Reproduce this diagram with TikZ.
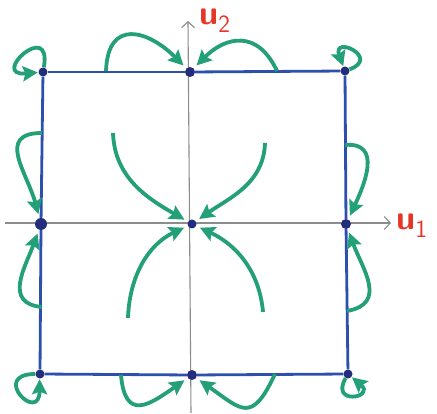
\documentclass[tikz,border=0pt]{standalone}
\usetikzlibrary{arrows.meta}
\definecolor{sideblue}{RGB}{45,80,175}
\definecolor{dotblue}{RGB}{35,45,125}
\definecolor{flowgreen}{RGB}{35,160,120}
\definecolor{labelred}{RGB}{228,55,40}

\begin{document}
\begin{tikzpicture}[x=1pt, y=1pt,
  % ---- Style definitions ----
  dot/.style={
    circle, fill=dotblue, inner sep=0pt, minimum size=9pt
  },
  sqline/.style={
    draw=sideblue, line width=2.8pt
  },
  axisline/.style={
    -{Straight Barb[length=6pt, width=13pt]}, draw=black!45, line width=1.1pt
  },
  flow/.style={
    -{Stealth[length=15pt, width=15pt, inset=2.5pt]}, draw=flowgreen,
    line width=3.8pt, shorten >=4pt
  },
  loopflow/.style={
    flow, shorten >=0.5pt
  },
  lbl/.style={
    text=labelred, font=\sffamily\bfseries\fontsize{34}{36}\selectfont, inner sep=0pt
  },
]
\useasboundingbox (0,0) rectangle (437,413);

% ---- Axes ----
\coordinate (xs) at (5,190);
\coordinate (xe) at (391,190);
\coordinate (ys) at (191,0);
\coordinate (ye) at (188,392);
\draw[axisline] (xs) -- (xe);
\draw[axisline] (ys) -- (ye);
\node[lbl, anchor=base west] (u1) at (396,183) {u$_{\mathsf{1}}$};
\node[lbl, anchor=base west] (u2) at (199,388) {u$_{\mathsf{2}}$};

% ---- Equilibrium points ----
\node[dot] (tl) at (43,341) {};
\node[dot, minimum size=10pt] (tm) at (190,341) {};
\node[dot] (tr) at (345,342) {};
\node[dot, minimum size=12pt] (ml) at (41,189) {};
\node[dot] (ctr) at (192,189) {};
\node[dot, minimum size=10pt] (mr) at (346,189) {};
\node[dot] (bl) at (40,39) {};
\node[dot, minimum size=10pt] (bm) at (192,38) {};
\node[dot] (br) at (348,39) {};

% ---- Square ----
\draw[sqline] (tl) -- (tm);
\draw[sqline] (tm) -- (tr);
\draw[sqline] (tr) -- (mr);
\draw[sqline] (mr) -- (br);
\draw[sqline] (br) -- (bm);
\draw[sqline] (bm) -- (bl);
\draw[sqline] (bl) -- (ml);
\draw[sqline] (ml) -- (tl);

% ---- Flow along the edges ----
\coordinate (e1) at (106,342);
\coordinate (e2) at (277,342);
\coordinate (e3) at (42,280);
\coordinate (e4) at (42,106);
\coordinate (e5) at (345,268);
\coordinate (e6) at (347,102);
\coordinate (e7) at (121,38);
\coordinate (e8) at (275,39);
\draw[flow] (e1) to[out=88, in=135, looseness=1.7] (tm);
\draw[flow] (e2) to[out=115, in=45, looseness=1.4] (tm);
\draw[flow] (e3) to[out=180, in=105, looseness=1.4] (ml);
\draw[flow] (e4) to[out=175, in=250, looseness=1.3] (ml);
\draw[flow] (e5) to[out=5, in=65, looseness=1.3] (mr);
\draw[flow] (e6) to[out=10, in=290, looseness=1.3] (mr);
\draw[flow] (e7) to[out=-85, in=215, looseness=1.8] (bm);
\draw[flow] (e8) to[out=-115, in=-35, looseness=1.8] (bm);

% ---- Flow towards the centre ----
\coordinate (s1) at (113,280);
\coordinate (s2) at (265,270);
\coordinate (s3) at (128,95);
\coordinate (s4) at (263,101);
\draw[flow] (s1) to[out=-88, in=150] (ctr);
\draw[flow] (s2) to[out=-92, in=35] (ctr);
\draw[flow] (s3) to[out=88, in=205] (ctr);
\draw[flow] (s4) to[out=95, in=-25] (ctr);

% ---- Loops at the corners ----
\draw[loopflow] (tl.80) .. controls +(80:50) and +(185:50) .. (tl.185);
\draw[loopflow] (tr.20) .. controls +(20:34) and +(110:34) .. (tr.110);
\draw[loopflow] (bl.180) .. controls +(180:46) and +(270:46) .. (bl.265);
\draw[loopflow] (br.240) .. controls +(240:32) and +(320:32) .. (br.320);

\end{tikzpicture}
\end{document}
